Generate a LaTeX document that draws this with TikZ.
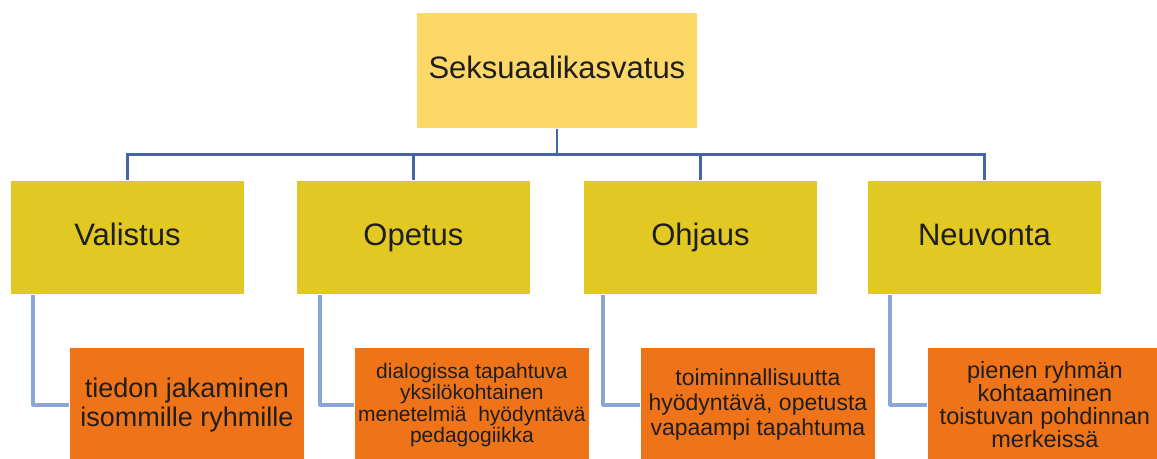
\documentclass[tikz,border=0pt]{standalone}
\usepackage{fontspec}
\setmainfont{Liberation Sans}
\definecolor{topfill}{HTML}{FDD868}
\definecolor{midfill}{HTML}{E2C822}
\definecolor{orfill}{HTML}{EF7419}
\definecolor{darkline}{HTML}{4565AA}
\definecolor{lightline}{HTML}{8AA6D8}
\definecolor{txt}{HTML}{1E1E1E}
\tikzset{
  topbox/.style={draw=white, line width=0.8pt, fill=topfill, text=txt, minimum width=281pt, minimum height=116pt, inner sep=0pt, text height=24pt, text depth=7pt, font=\fontsize{31}{34}\selectfont},
  midbox/.style={draw=white, line width=0.8pt, fill=midfill, text=txt, minimum width=234pt, minimum height=114pt, inner sep=0pt, text height=23pt, text depth=6pt, font=\fontsize{31}{34}\selectfont},
  orbox/.style={draw=white, line width=0.8pt, fill=orfill, text=txt, minimum width=235pt, minimum height=115pt, inner sep=0pt, align=center},
  topconn/.style={draw=darkline, line width=2.8pt},
  lowconn/.style={draw=lightline, line width=3.2pt, line join=round}
}
\begin{document}
\begin{tikzpicture}[x=1pt,y=-1pt]
\useasboundingbox (0,0) rectangle (1157,458);
\fill[white] (0,0) rectangle (1157,458);
% top
\node[topbox, anchor=north west] (top) at (416,12) {Seksuaalikasvatus};
% level 2
\node[midbox, anchor=north west] (v) at (10,180) {Valistus};
\node[midbox, anchor=north west] (op) at (296,180) {Opetus};
\node[midbox, anchor=north west] (oh) at (583,180) {Ohjaus};
\node[midbox, anchor=north west] (ne) at (867,180) {Neuvonta};
% level 3
\node[orbox, anchor=north west, font=\fontsize{27}{29}\selectfont] (o1) at (69,347) {tiedon jakaminen\\isommille ryhmille};
\node[orbox, anchor=north west, font=\fontsize{21}{21.5}\selectfont] (o2) at (354,347) {dialogissa tapahtuva\\yksilökohtainen\\menetelmiä~ hyödyntävä\\pedagogiikka};
\node[orbox, anchor=north west, font=\fontsize{23}{25}\selectfont] (o3) at (640,347) {toiminnallisuutta\\hyödyntävä, opetusta\\vapaampi tapahtuma};
\node[orbox, anchor=north west, font=\fontsize{23.5}{23}\selectfont] (o4) at (927,347) {pienen ryhmän\\kohtaaminen\\toistuvan pohdinnan\\merkeissä};
% connectors top
\coordinate (bar) at ([yshift=-26pt]top.south);
\draw[topconn] (top.south) -- (bar);
\draw[topconn] (bar) -| (v.north);
\draw[topconn] (bar) -| (op.north);
\draw[topconn] (bar) -| (oh.north);
\draw[topconn] (bar) -| (ne.north);
% connectors low
\draw[lowconn] ([xshift=23pt]v.south west) |- (o1.west);
\draw[lowconn] ([xshift=24pt]op.south west) |- (o2.west);
\draw[lowconn] ([xshift=20pt]oh.south west) |- (o3.west);
\draw[lowconn] ([xshift=23pt]ne.south west) |- (o4.west);
\end{tikzpicture}
\end{document}
